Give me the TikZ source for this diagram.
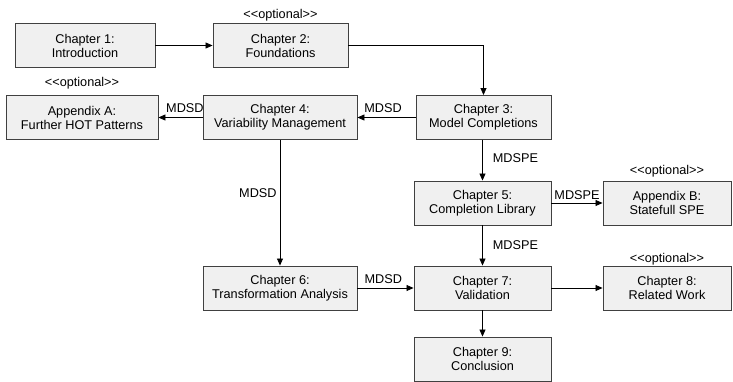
\documentclass[tikz,border=0pt]{standalone}
\usepackage{fontspec}
\setmainfont{Liberation Sans}
\usetikzlibrary{arrows.meta}
\definecolor{boxfill}{HTML}{F0F0F0}
\definecolor{boxline}{HTML}{404040}
% the kerns keep the font mapping from merging << and >> into guillemets
\newcommand{\optionaltag}{<\kern0pt<optional>\kern0pt>}
\begin{document}
\begin{tikzpicture}[x=1pt,y=-1pt,
  font=\fontsize{12.7}{14}\selectfont,
  chap/.style={draw=boxline, fill=boxfill, line width=0.9pt, align=center,
    minimum height=44pt, inner sep=0pt},
  flow/.style={draw=black, line width=0.8pt, -{Triangle[length=7pt,width=6pt]}},
  tag/.style={inner sep=1pt},
  opt/.style={label={[label distance=#1]above:{\optionaltag}}}]
\useasboundingbox (0,0) rectangle (733,382);
% chapters and appendices
\node[chap, minimum width=140pt] (c1) at (85,45.5) {Chapter 1:\\Introduction};
\node[chap, minimum width=135pt, opt=-1.5pt] (c2) at (280.5,45.5) {Chapter 2:\\Foundations};
\node[chap, minimum width=135pt] (c3) at (483.5,117.5) {Chapter 3:\\Model Completions};
\node[chap, minimum width=152pt, opt=2pt] (aa) at (82,117.5) {Appendix A:\\Further HOT Patterns};
\node[chap, minimum width=154pt] (c4) at (280,117.5) {Chapter 4:\\Variability Management};
\node[chap, minimum width=137pt] (c5) at (482.5,203) {Chapter 5:\\Completion Library};
\node[chap, minimum width=128pt, opt=-0.5pt] (ab) at (667,203) {Appendix B:\\Statefull SPE};
\node[chap, minimum width=154pt] (c6) at (280,288) {Chapter 6:\\Transformation Analysis};
\node[chap, minimum width=137pt] (c7) at (482.5,288) {Chapter 7:\\Validation};
\node[chap, minimum width=128pt, opt=-3.5pt] (c8) at (667,288) {Chapter 8:\\Related Work};
\node[chap, minimum width=137pt] (c9) at (482.5,359) {Chapter 9:\\Conclusion};
% reading order
\draw[flow] (c1) -- (c2);
\draw[flow] (c2.east) -| (c3.north);
\draw[flow] (c3) -- node[tag, pos=0.56, above, yshift=3pt] {MDSD} (c4);
\draw[flow] (c4) -- node[tag, pos=0.4, above, yshift=3pt] {MDSD} (aa);
\draw[flow] (c4.south) -- node[tag, pos=0.42, left, xshift=-2pt] {MDSD} (c4.south |- c6.north);
\draw[flow] (c3.south -| c5.north) -- node[tag, pos=0.45, right, xshift=9pt] {MDSPE} (c5.north);
\draw[flow] (c5) -- node[tag, pos=0.5, above, yshift=2pt] {MDSPE} (ab);
\draw[flow] (c5) -- node[tag, pos=0.5, right, xshift=9pt] {MDSPE} (c7);
\draw[flow] (c6) -- node[tag, pos=0.46, above, yshift=3pt] {MDSD} (c7);
\draw[flow] (c7) -- (c8);
\draw[flow] (c7) -- (c9);
\end{tikzpicture}
\end{document}
